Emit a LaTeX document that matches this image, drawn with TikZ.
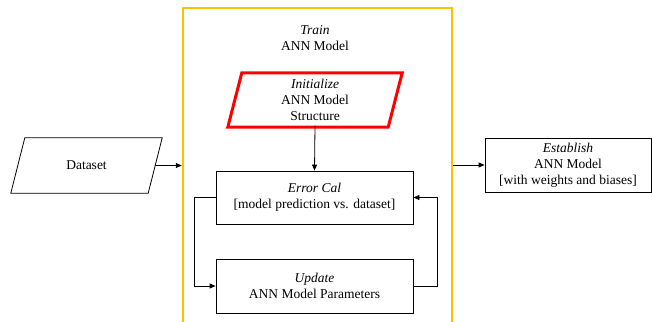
\documentclass[tikz,border=0pt]{standalone}
\usepackage{fontspec}
\setmainfont{Liberation Serif}
\usetikzlibrary{arrows.meta}
\definecolor{gold}{HTML}{FFC000}
\begin{document}
\begin{tikzpicture}[x=1pt,y=-1pt,
  every node/.style={font=\fontsize{13.5}{16}\selectfont, align=center},
  box/.style={draw, line width=0.8pt, rectangle, inner sep=0pt},
  paracore/.style={rectangle, inner sep=0pt},
  framebox/.style={draw=gold, line width=2.5pt, rectangle, inner sep=0pt},
  arr/.style={line width=0.8pt, -{Triangle[length=6pt,width=5pt]}}]
\useasboundingbox (0,0) rectangle (652,321);
\node[framebox, minimum width=269pt, minimum height=332pt] (train) at (317.5,174) {};
\node (title) at (315,38) {\textit{Train}\\ANN Model};
\node[paracore, minimum width=137pt, minimum height=55pt] (data) at (86.5,165.5) {Dataset};
\draw[line width=0.8pt, line join=miter] ([xshift=7pt]data.north west) -- ([xshift=7pt]data.north east)
  -- ([xshift=-7pt]data.south east) -- ([xshift=-7pt]data.south west) -- cycle;
\node[paracore, minimum width=160pt, minimum height=54pt] (init) at (315,100) {\textit{Initialize}\\ANN Model\\Structure};
\draw[draw=red, line width=3pt, line join=miter] ([xshift=7pt]init.north west) -- ([xshift=7pt]init.north east)
  -- ([xshift=-7pt]init.south east) -- ([xshift=-7pt]init.south west) -- cycle;
\node[box, minimum width=197pt, minimum height=53pt] (err) at (314.5,197.5) {\textit{Error Cal}\\{}[model prediction vs. dataset]};
\node[box, minimum width=197pt, minimum height=54pt] (upd) at (314.5,286) {\textit{Update}\\ANN Model Parameters};
\node[box, minimum width=166pt, minimum height=54pt] (est) at (568,165) {\textit{Establish}\\ANN Model\\{}[with weights and biases]};
\draw[arr] (data.east) -- (data.east -| train.west);
\draw[arr] (train.east |- est.west) -- (est.west);
\draw[arr] ([yshift=1.5pt]init.south) -- (err.north);
\draw[arr] (err.west) -- ++(-21,0) |- (upd.west);
\draw[arr] (upd.east) -- ++(24,0) |- (err.east);
\end{tikzpicture}
\end{document}
